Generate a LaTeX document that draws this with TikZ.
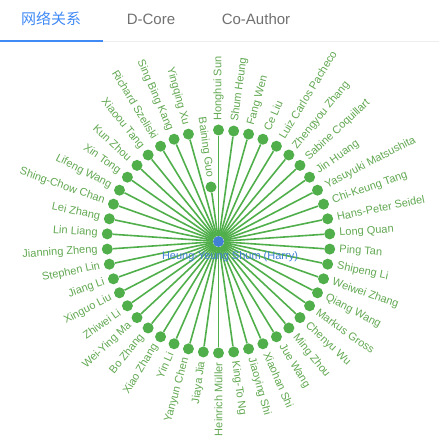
\documentclass[tikz,border=0pt]{standalone}
\usepackage{fontspec}
\setmainfont{Liberation Sans}
\newfontfamily\cjk{Noto Sans CJK SC}
\definecolor{linkgreen}{RGB}{80,175,75}
\definecolor{labelgreen}{RGB}{98,168,82}
\definecolor{hubblue}{RGB}{66,128,212}
\definecolor{tabblue}{RGB}{64,138,245}
\definecolor{tabgray}{RGB}{112,112,112}
\definecolor{rulegray}{RGB}{238,238,238}

\begin{document}
\begin{tikzpicture}[
	x=1pt, y=1pt,
	dot/.style={circle, fill=linkgreen, inner sep=0pt, minimum size=11pt},
	hub/.style={circle, fill=hubblue, inner sep=0pt, minimum size=11pt},
	link/.style={draw=linkgreen, line width=1.6pt},
	authorname/.style={text=labelgreen, font=\fontsize{11}{12}\selectfont, inner sep=0.5pt},
	tab/.style={font=\fontsize{15}{16}\selectfont, inner sep=0pt},
]
\useasboundingbox (0,0) rectangle (439,438);
% Tabs on top, the first one is active.
\node[tab, text=tabblue] (tabnet) at (51,419) {\cjk 网络关系};
\node[tab, text=tabgray] (tabcore) at (151,419) {D-Core};
\node[tab, text=tabgray] (tabco) at (256,419) {Co-Author};
\draw[rulegray, line width=1pt] (0,396.5) -- (439,396.5);
\draw[tabblue, line width=2pt] (0,396.5) -- (103,396.5);
% \coauthor{index}{name}: dot on the ring, link to the hub, label
% turned along the spoke (flipped on the left half).
\def\coauthor#1#2{
	\pgfmathsetmacro\ang{90-(#1-1)*360/46}
	\pgfmathsetmacro\rad{#1==46 ? 55 : 111.5}
	\pgfmathsetmacro\lrad{\rad+9}
	\pgfmathsetmacro\flip{\ang+180}
	\pgfmathtruncatemacro\side{\ang>-89.9}
	\node[dot] (a#1) at (\ang:\rad) {};
	\draw[link] (hub) -- (a#1);
	\ifnum\side=1
		\node[authorname, anchor=west, rotate=\ang] (a#1label) at (\ang:\lrad) {#2};
	\else
		\node[authorname, anchor=east, rotate=\flip] (a#1label) at (\ang:\lrad) {#2};
	\fi
}
\begin{scope}
	\clip (0,0) rectangle (439,392);
	\begin{scope}[shift={(218.5,196.5)}]
	\node[hub] (hub) at (0,0) {};
	\foreach \who [count=\i] in {Honghui Sun, Shum Heung, Fang Wen, Ce Liu,
		Luiz Carlos Pacheco, Zhengyou Zhang, Sabine Coquillart, Jin Huang,
		Yasuyuki Matsushita, Chi-Keung Tang, Hans-Peter Seidel, Long Quan,
		Ping Tan, Shipeng Li, Weiwei Zhang, Qiang Wang, Markus Gross,
		Chenyu Wu, Ming Zhou, Jue Wang, Xiaohan Shi, Jiaoying Shi, King-To Ng,
		Heinrich Müller, Jiaya Jia, Yanyun Chen, Yin Li, Xiao Zhang, Bo Zhang,
		Wei-Ying Ma, Zhiwei Li, Xinguo Liu, Jiang Li, Stephen Lin,
		Jianning Zheng, Lin Liang, Lei Zhang, Shing-Chow Chan, Lifeng Wang,
		Xin Tong, Kun Zhou, Xiaoou Tang, Richard Szeliski, Sing Bing Kang,
		Yingqing Xu, Baining Guo}
		{\coauthor{\i}{\who}}
	\node[text=hubblue, font=\fontsize{11}{12}\selectfont, inner sep=0pt]
		(hublabel) at (11.5,-15.5) {Heung-Yeung Shum (Harry)};
	\end{scope}
\end{scope}
\end{tikzpicture}
\end{document}
